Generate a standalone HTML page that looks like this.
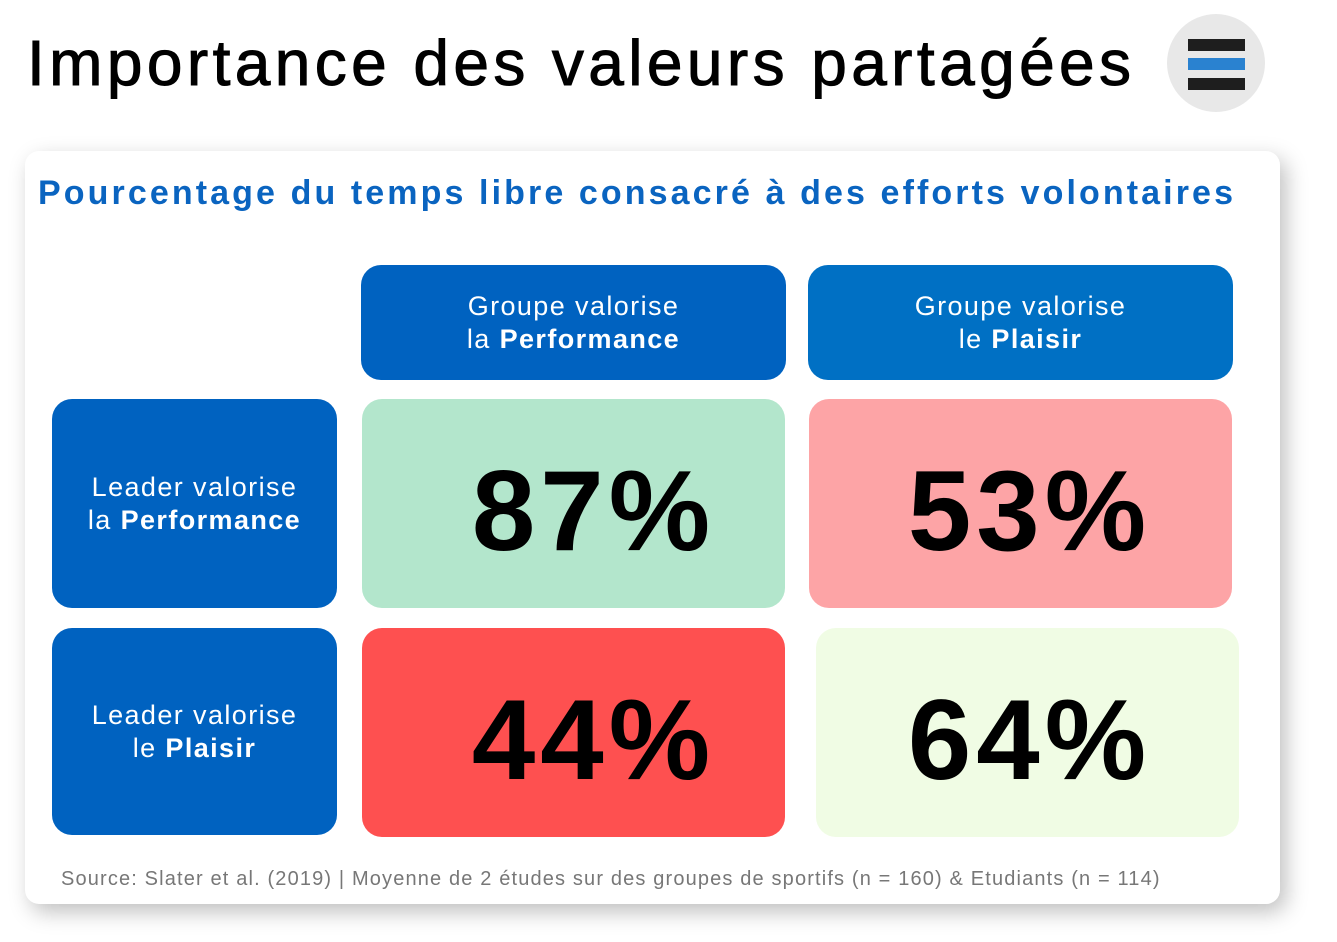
<!DOCTYPE html>
<html><head><meta charset="utf-8"><style>
body{margin:0;width:1337px;height:942px;background:#fff;font-family:"Liberation Sans",sans-serif;position:relative;overflow:hidden}
.a{position:absolute}
.box{position:absolute;border-radius:20px;display:flex;align-items:center;justify-content:center;text-align:center}
.hdr{color:#fff;font-size:27px;line-height:33px;letter-spacing:1.4px}
.num{font-size:114px;font-weight:bold;color:#000;letter-spacing:5px;box-sizing:border-box;padding-top:16px}
</style></head><body>
<div class="a" style="left:27px;top:26px;font-size:64px;color:#000;letter-spacing:4.4px;-webkit-text-stroke:1px #000">Importance des valeurs partagées</div>
<div class="a" style="left:1167px;top:14px;width:98px;height:98px;border-radius:50%;background:#e8e8e8">
<div class="a" style="left:21px;top:25px;width:57px;height:12px;background:#1e1e1e"></div>
<div class="a" style="left:21px;top:44px;width:57px;height:12px;background:#2a82d0"></div>
<div class="a" style="left:21px;top:64px;width:57px;height:12px;background:#1e1e1e"></div>
</div>
<div class="a" style="left:25px;top:151px;width:1255px;height:753px;background:#fff;border-radius:14px;box-shadow:6px 8px 22px rgba(0,0,0,0.25)"></div>
<div class="a" style="left:38px;top:174px;font-size:34px;font-weight:bold;color:#0a64c0;letter-spacing:3.1px">Pourcentage du temps libre consacré à des efforts volontaires</div>
<div id="grid"></div>
<div class="a" style="left:61px;top:868px;font-size:20px;color:#777;letter-spacing:1.15px">Source: Slater et al. (2019) | Moyenne de 2 études sur des groupes de sportifs (n = 160) &amp; Etudiants (n = 114)</div>
<script>
const colHeaders=[["Groupe valorise","la ","Performance"],["Groupe valorise","le ","Plaisir"]];
const rowHeaders=[["Leader valorise","la ","Performance"],["Leader valorise","le ","Plaisir"]];
const values=[[87,53],[44,64]];
const cellColors=[["#b3e6cc","#fda4a6"],["#fe5050","#f0fce4"]];
const g=document.getElementById('grid');
const colX=[[361,425],[808,425]], rowY=[[399,209],[628,207]];
const cellX=[[362,423],[809,423]], cellX2=[[362,423],[816,423]];
const padL=[40,14];
function mk(x,y,w,h,bg,html,cls){const d=document.createElement('div');d.className='box '+cls;d.style.cssText=`left:${x}px;top:${y}px;width:${w}px;height:${h}px;background:${bg}`;d.innerHTML='<span>'+html+'</span>';g.appendChild(d);return d;}
colHeaders.forEach((c,i)=>{const d=mk(colX[i][0],265,colX[i][1],115,i?'#0070c4':'#0062c0',`${c[0]}<br>${c[1]}<b>${c[2]}</b>`,'hdr');

});
rowHeaders.forEach((r,i)=>{const d=mk(52,rowY[i][0],285,rowY[i][1],'#0062c0',`${r[0]}<br>${r[1]}<b>${r[2]}</b>`,'hdr');

});
values.forEach((row,i)=>row.forEach((v,j)=>{const xs=i?cellX2:cellX;const d=mk(xs[j][0],rowY[i][0],xs[j][1],209,cellColors[i][j],v+'%','num');
d.style.paddingLeft=(i===0&&j===1?18:(j===0?40:4))+'px';

}));
</script>
</body></html>
